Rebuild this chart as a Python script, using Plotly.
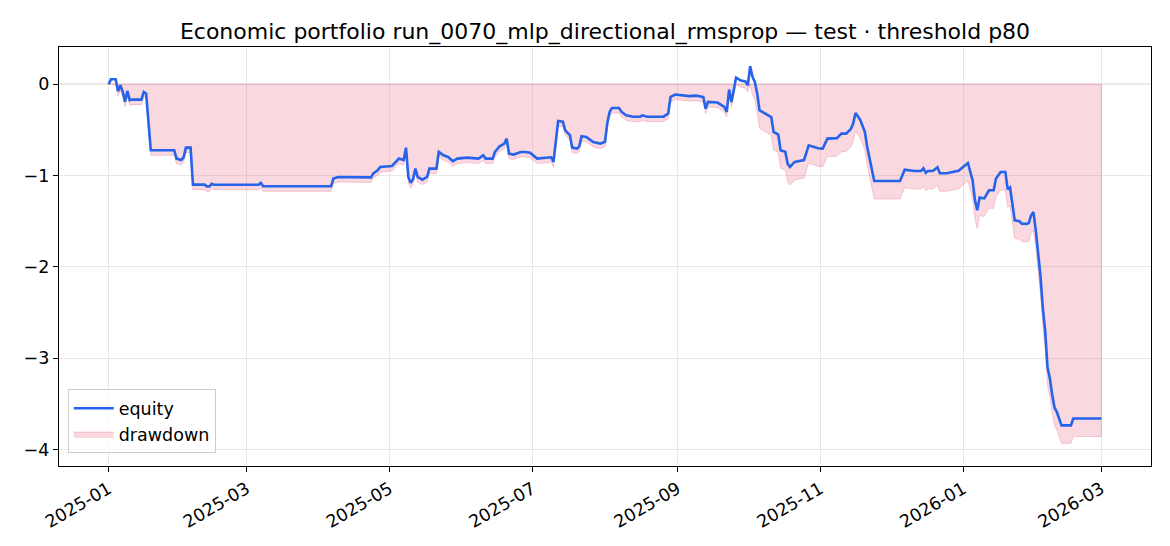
import numpy as np
import pandas as pd
import plotly.graph_objects as go

TITLE = "Economic portfolio run_0070_mlp_directional_rmsprop — test · threshold p80"
START = "2025-01-01"

# days since START
day_offset = [
    0, 1, 3, 4, 5, 6, 7, 8, 9, 10, 14, 15, 16, 17, 18, 28, 29, 31, 32, 33,
    35, 36, 41, 42, 43, 44, 45, 64, 65, 66, 95, 96, 98, 112, 113, 115, 116, 121, 124, 126,
    127, 128, 129, 130, 131, 132, 134, 136, 137, 140, 141, 143, 145, 147, 149, 153, 158, 160, 161, 164,
    165, 167, 169, 170, 171, 173, 176, 178, 180, 183, 186, 188, 189, 190, 192, 194, 195, 197, 198, 200,
    201, 202, 204, 207, 210, 212, 213, 214, 215, 218, 219, 221, 224, 227, 228, 230, 237, 239, 240, 242,
    244, 248, 251, 254, 255, 256, 260, 263, 264, 265, 266, 267, 268, 270, 272, 273, 274, 275, 276, 277,
    278, 279, 282, 283, 284, 286, 287, 289, 290, 291, 293, 297, 299, 303, 305, 307, 311, 313, 315, 317,
    318, 319, 321, 323, 324, 326, 327, 338, 339, 340, 344, 347, 348, 349, 350, 352, 354, 355, 358, 361,
    363, 367, 368, 369, 370, 371, 372, 374, 376, 378, 379, 381, 383, 384, 385, 386, 387, 389, 390, 392,
    393, 394, 395, 396, 397, 398, 399, 400, 401, 402, 403, 404, 405, 406, 407, 411, 412, 424,
]

equity = [
    0.0, 0.055, 0.055, -0.077, -0.01, -0.08, -0.19, -0.073, -0.175, -0.168, -0.168, -0.084, -0.10, -0.45, -0.723, -0.723, -0.814, -0.83, -0.80, -0.694,
    -0.694, -1.099, -1.099, -1.12, -1.12, -1.09, -1.10, -1.10, -1.08, -1.117, -1.117, -1.033, -1.015, -1.02, -0.978, -0.94, -0.905, -0.895, -0.814, -0.83,
    -0.694, -1.015, -1.08, -1.04, -0.924, -1.015, -1.045, -1.015, -0.924, -0.924, -0.741, -0.778, -0.796, -0.843, -0.814, -0.803, -0.814, -0.778, -0.814, -0.814,
    -0.741, -0.679, -0.65, -0.595, -0.76, -0.77, -0.741, -0.741, -0.75, -0.814, -0.803, -0.796, -0.80, -0.85, -0.402, -0.41, -0.504, -0.557, -0.694, -0.705,
    -0.68, -0.57, -0.577, -0.632, -0.65, -0.63, -0.42, -0.30, -0.26, -0.26, -0.30, -0.34, -0.355, -0.355, -0.34, -0.355, -0.355, -0.32, -0.139, -0.113,
    -0.12, -0.13, -0.125, -0.14, -0.267, -0.194, -0.20, -0.248, -0.303, -0.058, -0.194, -0.07, 0.073, 0.04, 0.03, -0.011, 0.197, 0.08, 0.025, -0.10,
    -0.285, -0.30, -0.34, -0.36, -0.522, -0.55, -0.723, -0.74, -0.87, -0.905, -0.85, -0.83, -0.668, -0.70, -0.705, -0.595, -0.59, -0.54, -0.54, -0.49,
    -0.43, -0.314, -0.39, -0.522, -0.686, -0.96, -1.059, -1.059, -1.00, -0.935, -0.95, -0.95, -0.92, -0.97, -0.95, -0.95, -0.91, -0.975, -0.975, -0.96,
    -0.947, -0.862, -0.95, -1.05, -1.27, -1.38, -1.241, -1.25, -1.161, -1.161, -1.033, -0.96, -0.96, -1.15, -1.13, -1.30, -1.49, -1.50, -1.526, -1.53,
    -1.52, -1.435, -1.40, -1.60, -1.86, -2.10, -2.45, -2.70, -3.10, -3.22, -3.40, -3.54, -3.59, -3.66, -3.735, -3.735, -3.66, -3.66,
]

dates = pd.Timestamp(START) + pd.to_timedelta(day_offset, unit="D")
eq = np.array(equity)
drawdown = eq - np.maximum.accumulate(eq)

BLUE = "#2563eb"
PINK_FILL = "rgba(231,99,131,0.25)"
PINK_EDGE = "rgba(231,99,131,0.30)"
GRID = "#e7e7e7"
FONT = "DejaVu Sans, Verdana, sans-serif"
TICK_SIZE = 17.5

fig = go.Figure()

# drawdown band between 0 and the drawdown curve (closed polygon so the edge is drawn all round)
poly_x = list(dates) + list(dates[::-1])
poly_y = list(drawdown) + [0.0] * len(dates)
fig.add_trace(go.Scatter(
    x=poly_x, y=poly_y, mode="lines", fill="toself",
    fillcolor=PINK_FILL, line=dict(color=PINK_EDGE, width=1),
    name="drawdown", legendrank=2, hoverinfo="skip",
))

fig.add_trace(go.Scatter(
    x=dates, y=equity, mode="lines",
    line=dict(color=BLUE, width=2.6),
    name="equity", legendrank=1,
))

fig.add_shape(type="line", xref="paper", x0=0, x1=1, y0=0, y1=0,
              line=dict(color="rgba(120,120,130,0.55)", width=1), layer="below")

# the page body adds an 8px margin, so margins are shifted to compensate
fig.update_layout(
    width=1170, height=546,
    paper_bgcolor="white", plot_bgcolor="white",
    font=dict(family=FONT, size=TICK_SIZE, color="black"),
    title=dict(text=TITLE, x=0.5, xref="paper", xanchor="center",
               y=1 - 23 / 546, yanchor="middle", automargin=False,
               font=dict(size=22, color="black")),
    margin=dict(l=51, r=27, t=39, b=88, autoexpand=False),
    showlegend=True,
    legend=dict(x=0.008, y=0.03, xanchor="left", yanchor="bottom",
                bgcolor="rgba(255,255,255,0.8)", bordercolor="#cccccc", borderwidth=1,
                font=dict(size=TICK_SIZE), itemwidth=40, tracegroupgap=2),
    xaxis=dict(
        type="date", automargin=False,
        range=["2024-12-10 19:00", "2026-03-22 05:00"],
        tick0="2025-01-01", dtick="M2", tickformat="%Y-%m", tickangle=-30,
        showgrid=True, gridcolor=GRID, gridwidth=1,
        showline=True, linecolor="black", linewidth=1.2, mirror=True,
        ticks="outside", ticklen=5, tickcolor="black", zeroline=False,
        tickfont=dict(size=TICK_SIZE),
    ),
    yaxis=dict(
        automargin=False,
        range=[-4.18, 0.408],
        tickmode="linear", tick0=0, dtick=1,
        showgrid=True, gridcolor=GRID, gridwidth=1,
        showline=True, linecolor="black", linewidth=1.2, mirror=True,
        ticks="outside", ticklen=5, tickcolor="black", zeroline=False,
        tickfont=dict(size=TICK_SIZE),
    ),
)

fig.write_html("out.html")
